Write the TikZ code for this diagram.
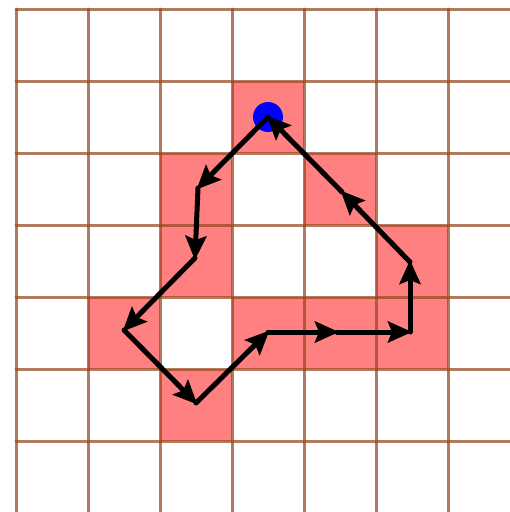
\documentclass[tikz,border=0pt]{standalone}
\usetikzlibrary{arrows.meta}
\definecolor{gridc}{RGB}{150,70,30}
\definecolor{cellc}{RGB}{255,128,128}
\tikzset{
  gridline/.style={draw=gridc, draw opacity=0.72, line width=3pt, line cap=round},
  cell/.style={fill=cellc},
  move/.style={draw=black, line width=5pt, line join=round, line cap=round,
    -{Stealth[length=24pt,width=21pt,inset=4pt]}, shorten >=-2pt},
  startdot/.style={fill=blue},
}
\begin{document}
\begin{tikzpicture}[x=1pt,y=-1pt]
\useasboundingbox (0,0) rectangle (510,512);
\clip (0,0) rectangle (510,512);
% highlighted cells
\foreach \c/\r in {3/1, 2/2, 4/2, 2/3, 5/3, 1/4, 3/4, 4/4, 5/4, 2/5}
  \path[cell] ({16+72*\c},{9+72*\r}) rectangle ({88+72*\c},{81+72*\r});
% grid
\foreach \i in {0,...,7} {
  \draw[gridline] ({16+72*\i},9) -- ({16+72*\i},530);
  \draw[gridline] (16,{9+72*\i}) -- (530,{9+72*\i});
}
% path points
\coordinate (p0) at (268,117);
\coordinate (p1) at (198,188);
\coordinate (p2) at (195,258);
\coordinate (p3) at (124,330);
\coordinate (p4) at (196,403);
\coordinate (p5) at (268,332);
\coordinate (p6) at (337,332);
\coordinate (p7) at (410,332);
\coordinate (p8) at (410,262);
\coordinate (p9) at (342,192);
% start dot
\path[startdot] (p0) circle (15);
% moves
\draw[move] (p0) -- (p1);
\draw[move] (p1) -- (p2);
\draw[move] (p2) -- (p3);
\draw[move] (p3) -- (p4);
\draw[move] (p4) -- (p5);
\draw[move] (p5) -- (p6);
\draw[move] (p6) -- (p7);
\draw[move] (p7) -- (p8);
\draw[move] (p8) -- (p9);
\draw[move] (p9) -- (p0);
\end{tikzpicture}
\end{document}
